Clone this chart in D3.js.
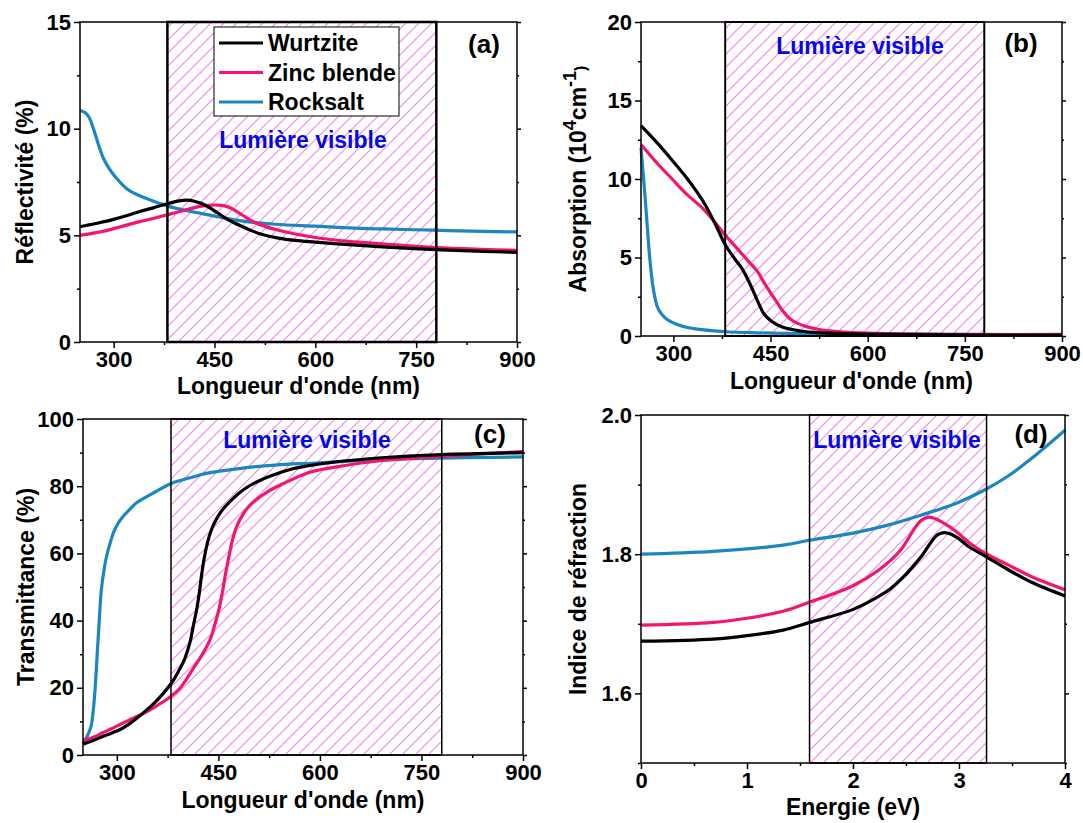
<!DOCTYPE html>
<html>
<head>
<meta charset="utf-8">
<script src="https://cdn.jsdelivr.net/npm/d3@7"></script>
<style>
  body { margin: 0; background: #fff; }
  svg { display: block; font-family: "Liberation Sans", Arial, sans-serif; font-weight: bold; }
  .axis path, .axis line { stroke: #000; stroke-width: 1.5; }
  .axis text { font-size: 22px; font-weight: bold; fill: #000; }
  .title { font-size: 23px; fill: #000; }
  .visible { font-size: 23px; fill: #0505f0; }
  .tag { font-size: 26px; fill: #000; }
</style>
</head>
<body>
<svg width="1083" height="823"></svg>
<script>
// series names and colours
var seriesNames = ["Wurtzite", "Zinc blende", "Rocksalt"];
var seriesColors = ["#000000", "#f5146e", "#1a86c2"];

// visible range (nm) and same range in eV
var visibleNm = [380, 780];
var visibleEv = [1.59, 3.26];

// (a) reflectivity (%) vs wavelength (nm)
var reflWurtzite = [[250,5.4],[265,5.5],[280,5.6],[300,5.75],[320,5.93],[340,6.13],[360,6.3],[380,6.48],[395,6.6],[410,6.65],[420,6.6],[430,6.5],[440,6.35],[450,6.15],[460,5.94],[470,5.74],[480,5.58],[490,5.43],[505,5.22],[520,5.05],[545,4.87],[570,4.76],[600,4.68],[650,4.56],[700,4.46],[780,4.33],[850,4.25],[900,4.2]];
var reflZincBlende = [[250,5.0],[270,5.1],[285,5.19],[310,5.4],[336,5.62],[360,5.8],[381,5.97],[400,6.13],[420,6.3],[440,6.4],[455,6.42],[465,6.38],[475,6.27],[485,6.08],[495,5.88],[510,5.6],[525,5.42],[541,5.27],[570,5.06],[600,4.9],[650,4.72],[700,4.6],[780,4.42],[850,4.34],[900,4.3]];
var reflRocksalt = [[250,10.85],[258,10.75],[264,10.5],[270,10.0],[278,9.2],[285,8.6],[293,8.15],[301,7.8],[321,7.15],[347,6.75],[381,6.37],[410,6.15],[439,5.97],[490,5.68],[541,5.52],[600,5.43],[650,5.35],[700,5.3],[777,5.24],[850,5.19],[900,5.16]];

// (b) absorption (10^4 cm^-1) vs wavelength (nm)
var absWurtzite = [[250,13.4],[275,12.3],[298,11.2],[320,10.1],[336,9.2],[350,8.3],[365,7.1],[381,5.75],[395,4.9],[405,4.35],[415,3.6],[425,2.7],[433,1.95],[440,1.4],[451,0.96],[469,0.55],[496,0.32],[523,0.21],[576,0.14],[630,0.1],[780,0.06],[900,0.05]];
var absZincBlende = [[250,12.2],[275,11.0],[298,10.0],[320,9.05],[346,8.1],[365,7.2],[381,6.38],[400,5.5],[416,4.75],[430,4.1],[440,3.4],[450,2.75],[459,2.2],[467,1.7],[475,1.3],[483,1.0],[491,0.82],[507,0.58],[523,0.43],[550,0.3],[576,0.22],[630,0.15],[780,0.1],[900,0.1]];
var absRocksalt = [[250,12.0],[253,10.5],[256,9.0],[260,6.8],[263,5.2],[267,3.6],[271,2.55],[275,1.9],[279,1.55],[286,1.2],[293,0.98],[305,0.75],[320,0.56],[340,0.42],[362,0.33],[381,0.27],[420,0.21],[469,0.17],[576,0.13],[700,0.1],[900,0.08]];

// (c) transmittance (%) vs wavelength (nm)
var transWurtzite = [[250,3.2],[265,4.3],[279,5.5],[292,6.5],[305,7.6],[318,9.2],[330,11.0],[343,13.2],[356,15.6],[368,18.2],[381,21.5],[390,24.5],[400,28.5],[408,33.5],[413,38.5],[418,43.4],[422,48.5],[425,53.3],[429,58.5],[434,63.3],[440,67.2],[447,70.2],[456,73],[466,75.2],[477,77.3],[488,79.1],[508,81.4],[528,83.1],[560,85.2],[600,86.6],[635,87.5],[686,88.4],[779,89.4],[900,90.0]];
var transZincBlende = [[250,4.2],[265,5.3],[279,6.6],[292,7.8],[305,9.1],[320,10.6],[335,12.0],[346,13.1],[360,14.8],[372,16.3],[381,17.6],[393,19.8],[402,22.3],[412,25.5],[425,29.5],[438,34.5],[445,39],[451,43.5],[456,48.5],[460,53.3],[465,58.5],[470,63.3],[476,67.5],[483,70.5],[493,73.5],[503,75.5],[523,78.4],[545,80.7],[584,84.1],[635,86.1],[686,87.5],[779,88.9],[900,90.3]];
var transRocksalt = [[250,3.5],[256,5.5],[262,8.6],[265,13],[268,20],[271,30],[274,40],[277,49],[281,55],[285,59.3],[290,63],[295,66.2],[302,69],[310,71.2],[320,73.3],[330,75.2],[345,77],[356,78.2],[381,80.9],[410,82.6],[432,83.8],[483,85.3],[534,86.3],[592,86.9],[635,87.4],[737,88.2],[900,88.7]];

// (d) refractive index vs energy (eV)
var indexWurtzite = [[0,1.675],[0.68,1.678],[1.0,1.683],[1.34,1.691],[1.59,1.702],[1.99,1.72],[2.18,1.734],[2.35,1.75],[2.48,1.768],[2.58,1.785],[2.66,1.8],[2.74,1.818],[2.8,1.828],[2.86,1.831],[2.92,1.829],[3.0,1.822],[3.1,1.81],[3.25,1.797],[3.46,1.778],[3.68,1.76],[4.0,1.74]];
var indexZincBlende = [[0,1.698],[0.68,1.702],[1.0,1.708],[1.34,1.718],[1.59,1.731],[1.99,1.754],[2.25,1.778],[2.45,1.806],[2.58,1.837],[2.64,1.848],[2.7,1.853],[2.76,1.852],[2.84,1.846],[2.97,1.833],[3.1,1.816],[3.25,1.801],[3.46,1.785],[3.68,1.768],[4.0,1.749]];
var indexRocksalt = [[0,1.8],[0.68,1.804],[1.34,1.813],[1.59,1.82],[1.99,1.83],[2.31,1.841],[2.64,1.856],[2.97,1.873],[3.25,1.893],[3.46,1.912],[3.68,1.937],[4.0,1.978]];

// tick values
var nmTicks = [300, 450, 600, 750, 900];
var nmMinor = [375, 525, 675, 825];
var reflTicks = [0, 5, 10, 15];
var reflMinor = [2.5, 7.5, 12.5];
var absTicks = [0, 5, 10, 15, 20];
var absMinor = [2.5, 7.5, 12.5, 17.5];
var transTicks = [0, 20, 40, 60, 80, 100];
var transMinor = [10, 30, 50, 70, 90];
var evTicks = [0, 1, 2, 3, 4];
var evMinor = [0.5, 1.5, 2.5, 3.5];
var indexTicks = [1.6, 1.8, 2.0];
var indexMinor = [1.5, 1.7, 1.9];

var svg = d3.select("svg");

// diagonal hatch for the visible band
var hs = 13;
var defs = svg.append("defs");
var hatch = defs.append("pattern")
    .attr("id", "hatch")
    .attr("patternUnits", "userSpaceOnUse")
    .attr("width", hs).attr("height", hs);
hatch.append("rect").attr("width", hs).attr("height", hs).attr("fill", "#fff");
hatch.append("path")
    .attr("d", "M-1,1 l2,-2 M0," + hs + " l" + hs + ",-" + hs + " M" + (hs - 1) + "," + (hs + 1) + " l2,-2")
    .attr("stroke", "#f284f2")
    .attr("stroke-width", 1.1);

var panels = [
  {box: [80, 517, 22, 342], x: [250, 900], y: [0, 15], xt: nmTicks, xm: nmMinor, yt: reflTicks, ym: reflMinor,
   band: visibleNm, bandW: 2.5, series: [reflWurtzite, reflZincBlende, reflRocksalt],
   xTitle: "Longueur d'onde (nm)", xTitleY: 394, yTitle: "Réflectivité (%)", yTitleX: 33,
   tag: "(a)", tagPos: [484, 53], vis: [303, 148], legend: true},
  {box: [641, 1062, 22, 336], x: [250, 900], y: [0, 20], xt: nmTicks, xm: nmMinor, yt: absTicks, ym: absMinor,
   band: visibleNm, bandW: 2, series: [absWurtzite, absZincBlende, absRocksalt],
   xTitle: "Longueur d'onde (nm)", xTitleY: 389, yTitle: "abs", yTitleX: 586,
   tag: "(b)", tagPos: [1021, 52], vis: [860, 54]},
  {box: [83, 523, 419, 755], x: [250, 900], y: [0, 100], xt: nmTicks, xm: nmMinor, yt: transTicks, ym: transMinor,
   band: visibleNm, bandW: 1.5, series: [transWurtzite, transZincBlende, transRocksalt],
   xTitle: "Longueur d'onde (nm)", xTitleY: 808, yTitle: "Transmittance (%)", yTitleX: 34,
   tag: "(c)", tagPos: [490, 443], vis: [307, 448]},
  {box: [641, 1065, 415, 763], x: [0, 4], y: [1.5, 2.0], xt: evTicks, xm: evMinor, yt: indexTicks, ym: indexMinor,
   band: visibleEv, bandW: 1.5, series: [indexWurtzite, indexZincBlende, indexRocksalt],
   xTitle: "Energie (eV)", xTitleY: 815, yTitle: "Indice de réfraction", yTitleX: 586,
   tag: "(d)", tagPos: [1031, 443], vis: [897, 448], yFmt: d3.format(".1f")}
];

panels.forEach(function(p) {
  var L = p.box[0], R = p.box[1], T = p.box[2], B = p.box[3];
  var x = d3.scaleLinear().domain(p.x).range([L, R]);
  var y = d3.scaleLinear().domain(p.y).range([B, T]);
  var g = svg.append("g");

  // hatched visible band
  g.append("rect")
      .attr("x", x(p.band[0])).attr("y", T)
      .attr("width", x(p.band[1]) - x(p.band[0])).attr("height", B - T)
      .attr("fill", "url(#hatch)");

  var line = d3.line()
      .x(function(d) { return x(d[0]); })
      .y(function(d) { return y(d[1]); })
      .curve(d3.curveCatmullRom.alpha(0.5));

  // draw rocksalt first, wurtzite on top
  [2, 1, 0].forEach(function(i) {
    g.append("path")
        .datum(p.series[i])
        .attr("fill", "none")
        .attr("stroke", seriesColors[i])
        .attr("stroke-width", 3.2)
        .attr("stroke-linejoin", "round")
        .attr("d", line);
  });

  // band borders
  g.append("rect")
      .attr("x", x(p.band[0])).attr("y", T)
      .attr("width", x(p.band[1]) - x(p.band[0])).attr("height", B - T)
      .attr("fill", "none").attr("stroke", "#000").attr("stroke-width", p.bandW);

  // frame
  g.append("rect")
      .attr("x", L).attr("y", T).attr("width", R - L).attr("height", B - T)
      .attr("fill", "none").attr("stroke", "#000").attr("stroke-width", 1.5);

  // axes
  var fmt = p.yFmt || d3.format("d");
  g.append("g").attr("class", "axis").attr("transform", "translate(0," + B + ")")
      .call(d3.axisBottom(x).tickValues(p.xt).tickSize(6).tickPadding(3).tickSizeOuter(0).tickFormat(d3.format("d")));
  g.append("g").attr("class", "axis").attr("transform", "translate(0," + B + ")")
      .call(d3.axisBottom(x).tickValues(p.xm).tickSize(3).tickSizeOuter(0).tickFormat(""));
  g.append("g").attr("class", "axis").attr("transform", "translate(" + L + ",0)")
      .call(d3.axisLeft(y).tickValues(p.yt).tickSize(6).tickPadding(3).tickSizeOuter(0).tickFormat(fmt));
  g.append("g").attr("class", "axis").attr("transform", "translate(" + L + ",0)")
      .call(d3.axisLeft(y).tickValues(p.ym).tickSize(3).tickSizeOuter(0).tickFormat(""));
  g.append("g").attr("class", "axis").attr("transform", "translate(" + R + ",0)")
      .call(d3.axisRight(y).tickValues(p.yt).tickSize(4).tickSizeOuter(0).tickFormat(""));
  g.append("g").attr("class", "axis").attr("transform", "translate(" + R + ",0)")
      .call(d3.axisRight(y).tickValues(p.ym).tickSize(2).tickSizeOuter(0).tickFormat(""));
  g.selectAll(".axis path.domain").remove();

  // titles
  g.append("text").attr("class", "title")
      .attr("x", (L + R) / 2).attr("y", p.xTitleY)
      .attr("text-anchor", "middle").text(p.xTitle);

  var yt = g.append("text").attr("class", "title")
      .attr("transform", "translate(" + p.yTitleX + "," + (T + B) / 2 + ") rotate(-90)")
      .attr("text-anchor", "middle");
  if (p.yTitle === "abs") {
    yt.append("tspan").text("Absorption (10");
    yt.append("tspan").attr("baseline-shift", "super").attr("font-size", "18px").text("4");
    yt.append("tspan").text("cm");
    yt.append("tspan").attr("baseline-shift", "super").attr("font-size", "18px").text("-1");
    yt.append("tspan").attr("font-size", "16px").text(")");
  } else {
    yt.text(p.yTitle);
  }

  g.append("text").attr("class", "visible")
      .attr("x", p.vis[0]).attr("y", p.vis[1])
      .attr("text-anchor", "middle").text("Lumière visible");

  g.append("text").attr("class", "tag")
      .attr("x", p.tagPos[0]).attr("y", p.tagPos[1])
      .attr("text-anchor", "middle").text(p.tag);

  if (p.legend) {
    var lg = g.append("g");
    lg.append("rect")
        .attr("x", 214).attr("y", 27).attr("width", 185).attr("height", 89)
        .attr("fill", "#fff").attr("stroke", "#000").attr("stroke-width", 1);
    seriesNames.forEach(function(name, i) {
      var ly = 43 + i * 29.5;
      lg.append("line")
          .attr("x1", 219).attr("x2", 263).attr("y1", ly).attr("y2", ly)
          .attr("stroke", seriesColors[i]).attr("stroke-width", 3.2);
      lg.append("text")
          .attr("x", 268).attr("y", ly).attr("dy", "0.36em")
          .attr("font-size", "23px").attr("fill", "#000")
          .text(name);
    });
  }
});
</script>
</body>
</html>
